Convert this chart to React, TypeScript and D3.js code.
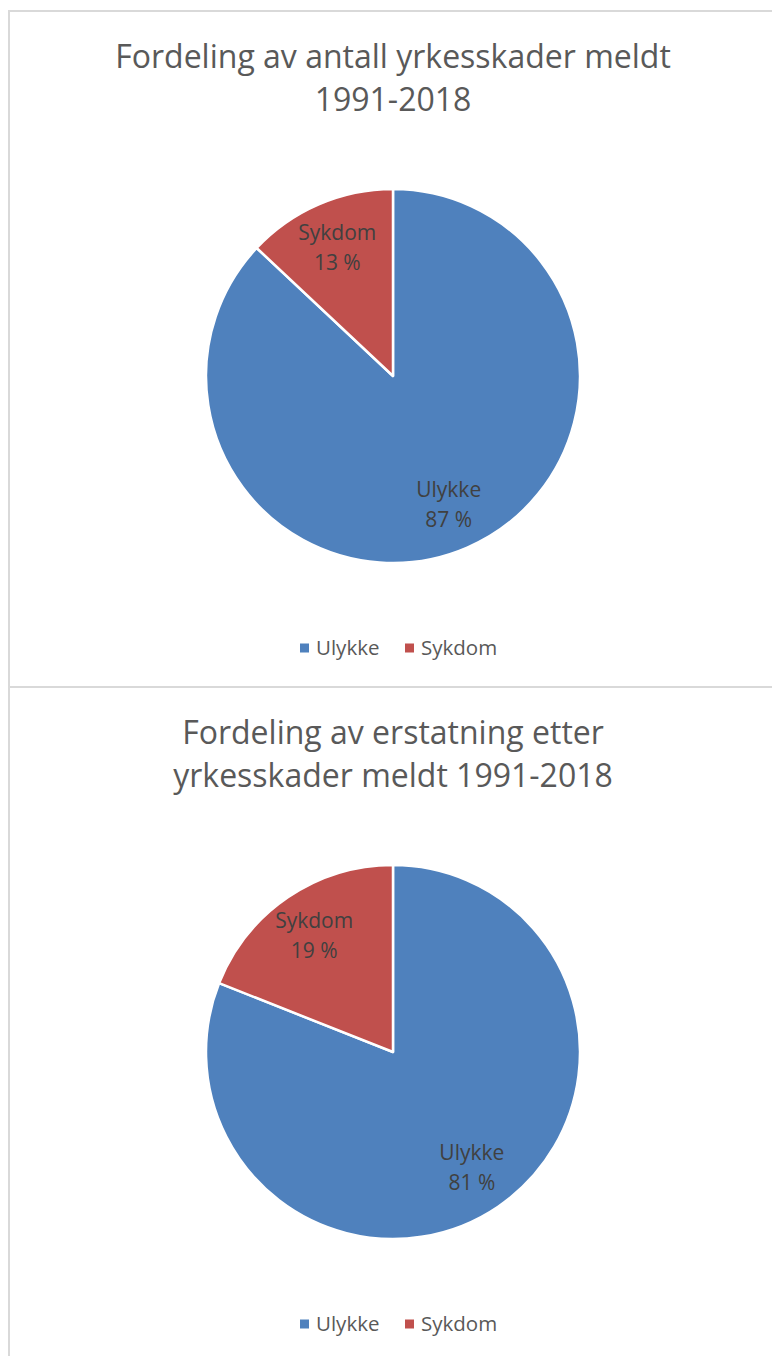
import * as d3 from "d3";
import { useEffect, useRef } from "react";

const CATEGORIES = ["Ulykke", "Sykdom"];
const COLORS = ["#4f81bd", "#c0504d"];
const COUNT_SHARE = [87, 13];
const COMP_SHARE = [81, 19];
const TITLE_COUNT = ["Fordeling av antall yrkesskader meldt", "1991-2018"];
const TITLE_COMP = ["Fordeling av erstatning etter", "yrkesskader meldt 1991-2018"];

const W = 772;
const H = 1356;
const FONT = "'Open Sans', 'DejaVu Sans', sans-serif";

function drawPie(svg, top, title, values) {
  const cx = 393;
  const g = svg.append("g").attr("transform", `translate(0,${top})`);

  g.selectAll("text.title")
    .data(title)
    .enter()
    .append("text")
    .attr("class", "title")
    .attr("x", cx)
    .attr("y", (d, i) => 46 + i * 43)
    .attr("dy", "0.35em")
    .attr("text-anchor", "middle")
    .attr("fill", "#595959")
    .attr("font-size", 32)
    .text((d) => d);

  const r = 187;
  const cy = 365;
  const rows = CATEGORIES.map((c, i) => ({ label: c, value: values[i], color: COLORS[i] }));
  const pie = d3.pie().sort(null).value((d) => d.value);
  const arc = d3.arc().innerRadius(0).outerRadius(r);
  const labelArc = d3.arc().innerRadius(r * 0.75).outerRadius(r * 0.75);

  const pg = g.append("g").attr("transform", `translate(${cx},${cy})`);
  const slices = pie(rows);
  pg.selectAll("path")
    .data(slices)
    .enter()
    .append("path")
    .attr("d", arc)
    .attr("fill", (d) => d.data.color)
    .attr("stroke", "#fff")
    .attr("stroke-width", 2.5)
    .attr("stroke-linejoin", "round");

  const lab = pg
    .selectAll("text.lab")
    .data(slices)
    .enter()
    .append("text")
    .attr("class", "lab")
    .attr("transform", (d) => `translate(${labelArc.centroid(d)})`)
    .attr("text-anchor", "middle")
    .attr("fill", "#404040")
    .attr("font-size", 21);
  lab.append("tspan").attr("x", 0).attr("y", -15).attr("dy", "0.35em").text((d) => d.data.label);
  lab.append("tspan").attr("x", 0).attr("y", 15).attr("dy", "0.35em").text((d) => `${d.data.value} %`);

  // legend
  const lg = g.append("g").attr("transform", `translate(0,${637})`);
  const xs = [300, 405];
  CATEGORIES.forEach((c, i) => {
    lg.append("rect").attr("x", xs[i]).attr("y", -4.5).attr("width", 9).attr("height", 9).attr("fill", COLORS[i]);
    lg.append("text")
      .attr("x", xs[i] + 16)
      .attr("y", 0)
      .attr("dy", "0.35em")
      .attr("fill", "#595959")
      .attr("font-size", 20.5)
      .text(c);
  });
}

export default function App() {
  const ref = useRef(null);

  useEffect(() => {
    const host = ref.current;
    if (!host) return;
    d3.select(host).selectAll("*").remove();
    const svg = d3
      .select(host)
      .append("svg")
      .attr("width", W)
      .attr("height", H)
      .style("display", "block")
      .style("font-family", FONT);

    svg.append("rect").attr("width", W).attr("height", H).attr("fill", "#fff");

    // chart borders
    svg.append("line").attr("x1", 9).attr("x2", W).attr("y1", 11).attr("y2", 11).attr("stroke", "#d9d9d9").attr("stroke-width", 2);
    svg.append("line").attr("x1", 9).attr("x2", W).attr("y1", 687).attr("y2", 687).attr("stroke", "#d9d9d9").attr("stroke-width", 2);
    svg.append("line").attr("x1", 9).attr("x2", 9).attr("y1", 10).attr("y2", H).attr("stroke", "#d9d9d9").attr("stroke-width", 2);

    drawPie(svg, 11, TITLE_COUNT, COUNT_SHARE);
    drawPie(svg, 687, TITLE_COMP, COMP_SHARE);
  }, []);

  return <div ref={ref} style={{ position: "absolute", left: 0, top: 0 }} />;
}
